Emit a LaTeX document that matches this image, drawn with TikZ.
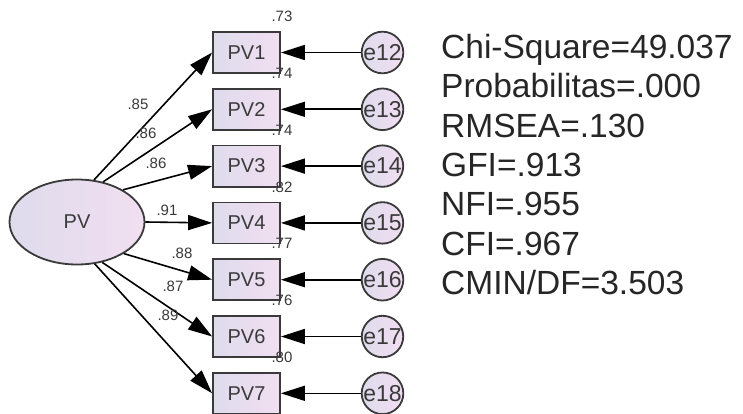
\documentclass[tikz,border=0pt]{standalone}
\usepackage{fontspec}
\setmainfont{Liberation Sans}
\usetikzlibrary{arrows.meta,shapes.geometric}

\definecolor{ink}{HTML}{3A3A3A}
\definecolor{fillL}{HTML}{DEDCEC}
\definecolor{fillR}{HTML}{F1DEF1}

\tikzset{
  obsbox/.style={draw=ink, line width=1.8pt, left color=fillL, right color=fillR,
    minimum width=67pt, minimum height=41pt, inner sep=0pt,
    font=\fontsize{20}{20}\selectfont, text=ink},
  latent/.style={ellipse, draw=ink, line width=1.8pt, left color=fillL, right color=fillR,
    minimum width=135pt, minimum height=85pt, inner sep=0pt,
    font=\fontsize{20}{20}\selectfont, text=ink},
  errc/.style={circle, draw=ink, line width=1.8pt, left color=fillL, right color=fillR,
    minimum size=41pt, inner sep=0pt,
    font=\fontsize{23}{23}\selectfont, text=ink},
  arr/.style={draw=black, line width=1.6pt, -{Triangle[length=24pt,width=15pt]}},
  coef/.style={inner sep=0pt, font=\fontsize{15}{15}\selectfont, text=ink},
  fitline/.style={anchor=base west, inner sep=0pt, font=\fontsize{33.5}{33.5}\selectfont, text=black!85}
}

\begin{document}
\begin{tikzpicture}[x=1pt, y=-1pt]
  \useasboundingbox (0,0) rectangle (743,414);
  \fill[white] (0,0) rectangle (743,414);

  % latent factor
  \node[latent] (PV) at (77,222) {PV};

  % indicators, error terms and their paths
  \foreach \i/\e/\yy/\ang in {1/12/52.5/68, 2/13/109.3/57, 3/14/166.1/35, 4/15/222.9/0,
                              5/16/279.7/-34, 6/17/336.5/-58, 7/18/393.3/-67} {
    \node[obsbox] (PV\i) at (246.5,\yy) {PV\i};
    \node[errc] (e\e) at (382.5,\yy) {e\e};
    \draw[arr] (e\e) -- (PV\i);
    \draw[arr] (PV.\ang) -- (PV\i.west);
  }

  % standardized loadings
  \node[coef] (l1) at (138,104) {.85};
  \node[coef] (l2) at (146,133) {.86};
  \node[coef] (l3) at (156,163) {.86};
  \node[coef] (l4) at (167,210) {.91};
  \node[coef] (l5) at (182,253) {.88};
  \node[coef] (l6) at (173,286) {.87};
  \node[coef] (l7) at (168,315) {.89};

  % squared multiple correlations
  \node[coef] (r1) at (282,16.5)  {.73};
  \node[coef] (r2) at (282,73.3)  {.74};
  \node[coef] (r3) at (282,130.1) {.74};
  \node[coef] (r4) at (282,186.9) {.82};
  \node[coef] (r5) at (282,243.7) {.77};
  \node[coef] (r6) at (282,300.5) {.76};
  \node[coef] (r7) at (282,357.3) {.80};

  % fit indices
  \node[fitline] (f1) at (441,58.5)  {Chi-Square=49.037};
  \node[fitline] (f2) at (441,97.8)  {Probabilitas=.000};
  \node[fitline] (f3) at (441,137.1) {RMSEA=.130};
  \node[fitline] (f4) at (441,176.4) {GFI=.913};
  \node[fitline] (f5) at (441,215.7) {NFI=.955};
  \node[fitline] (f6) at (441,255.0) {CFI=.967};
  \node[fitline] (f7) at (441,294.3) {CMIN/DF=3.503};
\end{tikzpicture}
\end{document}
